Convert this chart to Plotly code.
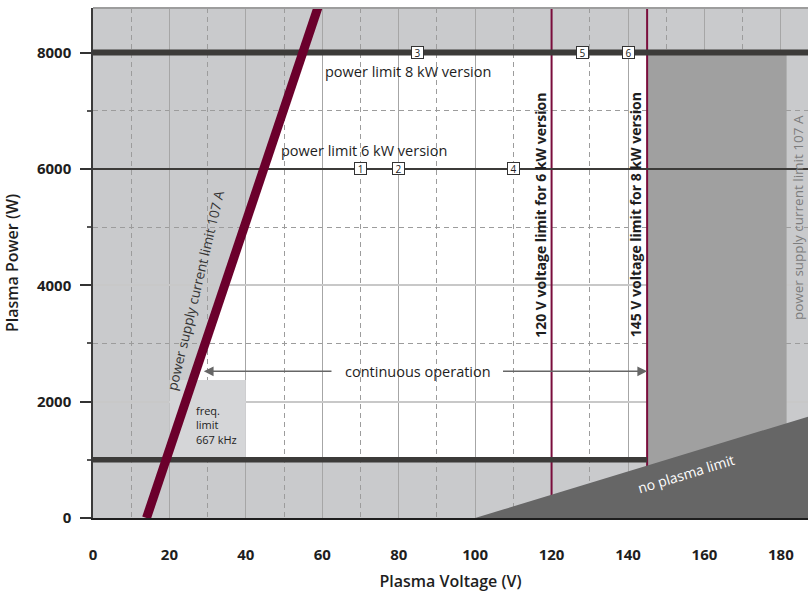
import numpy as np
import plotly.graph_objects as go

# ---- axis extents -------------------------------------------------------
v_max = 187.1
w_max = 8765
x_ticks = [0, 20, 40, 60, 80, 100, 120, 140, 160, 180]
y_ticks = [0, 2000, 4000, 6000, 8000]

# ---- operating limits (voltage in V, power in W) -------------------------
current_limit_v = [14, 59]          # power supply current limit 107 A
current_limit_w = [0, 8800]
power_limit_8kw = 8000
power_limit_6kw = 6000
min_power_w = 1000
voltage_limit_6kw = 120
voltage_limit_8kw = 145
current_limit_2_v = 181.5           # second current-limit boundary
no_plasma_v = [100, 190]
no_plasma_w = [0, 1800]
freq_limit_v = [20, 40]             # freq. limit 667 kHz
freq_limit_w = [1000, 2370]
continuous_w = 2520
continuous_tips_v = [29, 145]
continuous_tails_v = [62.8, 106.9]

# ---- numbered operating points --------------------------------------------
mark_labels = ["1", "2", "3", "4", "5", "6"]
mark_v = [70, 80, 85, 110, 128, 140]
mark_w = [6000, 6000, 8000, 6000, 8000, 8000]

FONT = "Open Sans"
BG_GREY = "#c9cacc"
DARK = "#3c3b39"
MAROON = "#6b002c"
LIMIT_RED = "#7a0d3c"

fig = go.Figure()

# white "continuous operation" area, under the grid
v_at_min = float(np.interp(min_power_w, current_limit_w, current_limit_v))
v_at_top = float(np.interp(power_limit_8kw, current_limit_w, current_limit_v))
white_path = (f"M {v_at_min},{min_power_w} L {v_at_top},{power_limit_8kw} "
              f"L {voltage_limit_8kw},{power_limit_8kw} L {voltage_limit_8kw},{min_power_w} Z")
shapes = [
    dict(type="path", path=white_path, xref="x", yref="y", layer="below",
         fillcolor="white", line=dict(width=0)),
    # top frame edge
    dict(type="line", xref="paper", yref="paper", x0=0, x1=1, y0=1, y1=1,
         line=dict(color="#9d9d9d", width=2), layer="above"),
]

# frequency limited area
fig.add_trace(go.Scatter(
    x=[freq_limit_v[0], freq_limit_v[1], freq_limit_v[1], freq_limit_v[0]],
    y=[freq_limit_w[0], freq_limit_w[0], freq_limit_w[1], freq_limit_w[1]],
    fill="toself", fillcolor="#d5d6d8", line=dict(width=0), mode="lines",
    hoverinfo="skip"))

# area beyond the 8 kW voltage limit
fig.add_trace(go.Scatter(
    x=[voltage_limit_8kw, current_limit_2_v, current_limit_2_v, voltage_limit_8kw],
    y=[0, 0, power_limit_8kw, power_limit_8kw],
    fill="toself", fillcolor="#a0a0a0", line=dict(width=0), mode="lines",
    hoverinfo="skip"))

# voltage limits
for v in (voltage_limit_6kw, voltage_limit_8kw):
    fig.add_trace(go.Scatter(x=[v, v], y=[0, w_max], mode="lines",
                             line=dict(color=LIMIT_RED, width=2), hoverinfo="skip"))

# no plasma region
fig.add_trace(go.Scatter(
    x=[no_plasma_v[0], no_plasma_v[1], no_plasma_v[1]],
    y=[no_plasma_w[0], no_plasma_w[1], no_plasma_w[0]],
    fill="toself", fillcolor="#666666", line=dict(width=0), mode="lines",
    hoverinfo="skip"))

# power limits
fig.add_trace(go.Scatter(x=[0, v_max], y=[power_limit_8kw] * 2, mode="lines",
                         line=dict(color=DARK, width=6), hoverinfo="skip"))
fig.add_trace(go.Scatter(x=[0, v_max], y=[power_limit_6kw] * 2, mode="lines",
                         line=dict(color=DARK, width=2), hoverinfo="skip"))
fig.add_trace(go.Scatter(x=[0, voltage_limit_8kw], y=[min_power_w] * 2, mode="lines",
                         line=dict(color=DARK, width=5.5), hoverinfo="skip"))

# current limit
fig.add_trace(go.Scatter(x=current_limit_v, y=current_limit_w, mode="lines",
                         line=dict(color=MAROON, width=9), hoverinfo="skip"))

annotations = []

def txt(text, x, y, size=14, color="#1e1e1e", angle=0, weight=400, **kw):
    annotations.append(dict(text=text, x=x, y=y, xref="x", yref="y", showarrow=False,
                            textangle=angle,
                            font=dict(family=FONT, size=size, color=color, weight=weight),
                            **kw))

txt("power limit 8 kW version", 82.4, 7673, size=14.5)
txt("power limit 6 kW version", 70.8, 6320, size=14.5)
txt("continuous operation", 85, continuous_w, size=14.5)
txt(f"{voltage_limit_6kw} V voltage limit for 6 kW version", voltage_limit_6kw, 5204,
    size=14, angle=-90, weight=700, xshift=-11)
txt(f"{voltage_limit_8kw} V voltage limit for 8 kW version", voltage_limit_8kw, 5204,
    size=14, angle=-90, weight=700, xshift=-12)
txt("power supply current limit 107 A", 26.9, 3917, size=13.5, color="#333333", angle=-76.5)
txt("power supply current limit 107 A", 184.5, 5156, size=13.5, color="#7c7c7c", angle=-90)
txt("no plasma limit", 155.3, 764, size=14, color="white", angle=-17)
txt("freq.<br>limit<br>667 kHz", 26.5, 1595, size=11, color="#222222", xanchor="left",
    align="left")

# arrows of the continuous-operation range
for tip, tail in zip(continuous_tips_v, continuous_tails_v):
    annotations.append(dict(text="", x=tip, y=continuous_w, ax=tail, ay=continuous_w,
                            xref="x", yref="y", axref="x", ayref="y", showarrow=True,
                            arrowhead=2, arrowsize=1.3, arrowwidth=1.5,
                            arrowcolor="#666666", standoff=0))

# numbered point markers
for lab, v, w in zip(mark_labels, mark_v, mark_w):
    annotations.append(dict(text=lab, x=v, y=w, xref="x", yref="y", showarrow=False,
                            font=dict(family=FONT, size=10, color="#222222"),
                            bgcolor="white", bordercolor="#333333", borderwidth=1,
                            borderpad=1, width=9, height=9))

fig.update_layout(
    width=808, height=592,
    margin=dict(l=93, r=0, t=8, b=74),
    paper_bgcolor="white", plot_bgcolor=BG_GREY,
    showlegend=False,
    shapes=shapes, annotations=annotations,
    font=dict(family=FONT, color="#1e1e1e"),
)

fig.update_xaxes(
    range=[0, v_max], tickvals=x_ticks, ticks="", ticklabelstandoff=22,
    tickfont=dict(family=FONT, size=15, weight=700, color="#1e1e1e"),
    showgrid=True, gridcolor="#a6a6a6", gridwidth=1,
    minor=dict(dtick=10, showgrid=True, gridcolor="#9c9c9c", griddash="5px,4px",
               gridwidth=1),
    showline=True, linecolor="#1e1e1e", linewidth=2, zeroline=False,
    title=dict(text="Plasma Voltage (V)", standoff=14,
               font=dict(family=FONT, size=16, weight=600, color="#1e1e1e")),
)
fig.update_yaxes(
    range=[0, w_max], tickvals=y_ticks, ticks="outside", ticklen=11, tickwidth=1.5,
    tickcolor="#333333", ticklabelstandoff=6,
    tickfont=dict(family=FONT, size=15, weight=700, color="#1e1e1e"),
    showgrid=True, gridcolor="#c8c8c8", gridwidth=1.5,
    minor=dict(dtick=1000, showgrid=True, gridcolor="#9c9c9c", griddash="5px,4px",
               gridwidth=1, ticks="outside", ticklen=4, tickcolor="#555555"),
    showline=True, linecolor="#3a3a3a", linewidth=1.5, zeroline=False,
    title=dict(text="Plasma Power (W)", standoff=14,
               font=dict(family=FONT, size=16, weight=600, color="#1e1e1e")),
)

fig.write_html("out.html")
